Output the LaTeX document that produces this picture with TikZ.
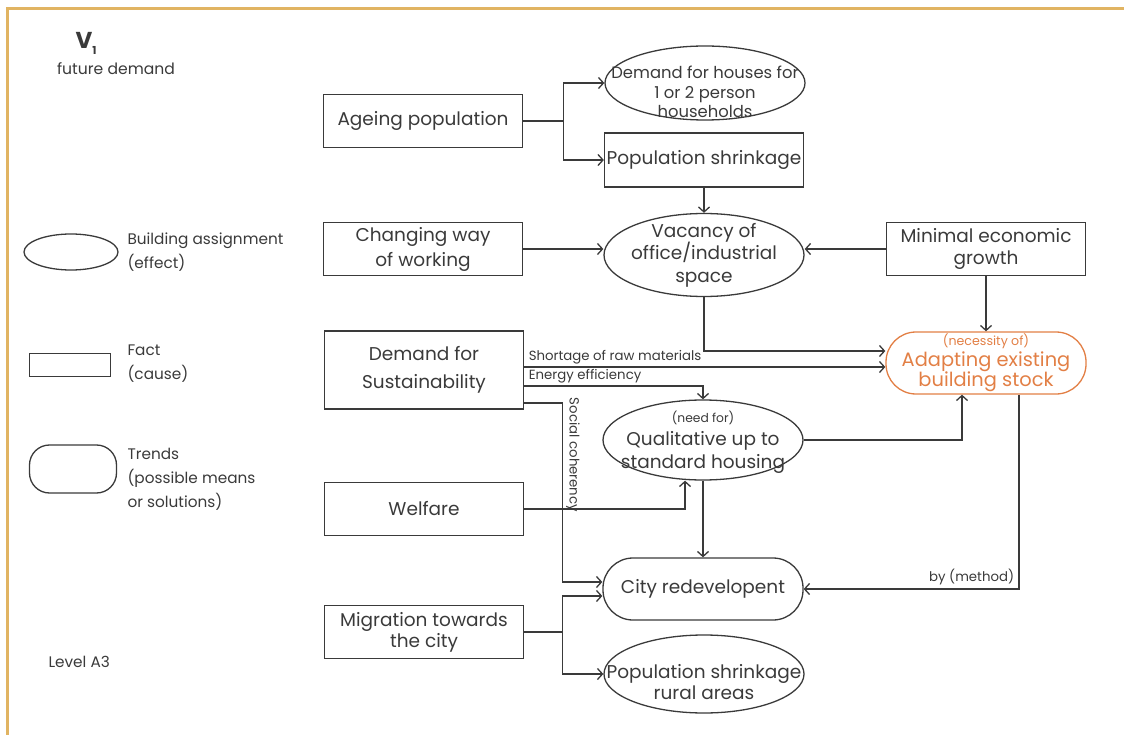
\documentclass[tikz,border=0pt]{standalone}
\usepackage{fontspec}
\setmainfont{Poppins}
\usetikzlibrary{shapes.geometric,arrows.meta}
\definecolor{ink}{HTML}{3A3A3A}
\definecolor{rim}{HTML}{E1B462}
\definecolor{rust}{HTML}{E27F45}

\begin{document}
\begin{tikzpicture}[x=1pt, y=-1pt, >={Straight Barb[length=5pt,width=11pt]},
    every node/.style={text=ink, font=\fontsize{18.5}{23}\selectfont},
    fact/.style={draw=ink, line width=1.3pt, rectangle, minimum width=199pt,
        minimum height=53pt, align=center, inner sep=1pt},
    effect/.style={draw=ink, line width=1.3pt, ellipse, minimum width=200pt,
        inner sep=0pt},
    trend/.style={draw=ink, line width=1.3pt, rectangle, rounded corners=30pt,
        minimum width=200pt, minimum height=62pt, align=center, inner sep=1pt},
    link/.style={draw=ink, line width=1.3pt, ->},
    note/.style={font=\fontsize{13.3}{15}\selectfont},
    legend/.style={font=\fontsize{15.3}{24}\selectfont, align=left, anchor=west}]

    % Vaste afmetingen van het beeld
    \useasboundingbox (0,0) rectangle (1124,735);
    \draw[rim, line width=2.5pt] (7.5,735) -- (7.5,8.5) -- (1124,8.5);

    % 1. Titel en legenda
    \node[font=\bfseries\fontsize{23}{23}\selectfont] (vee) at (86,43)
        {V\raisebox{-6pt}{\fontsize{11}{11}\selectfont 1}};
    \node[font=\fontsize{15.6}{17}\selectfont] (future) at (116,69) {future demand};

    \node[effect, minimum width=94pt, minimum height=36pt] (lgeffect) at (71,252) {};
    \node[legend] (lgeffecttxt) at (124,252) {Building assignment\\(effect)};
    \node[fact, minimum width=81pt, minimum height=23pt] (lgfact) at (70,365) {};
    \node[legend] (lgfacttxt) at (124,364) {Fact\\(cause)};
    \node[trend, minimum width=87pt, minimum height=48pt, rounded corners=20pt]
        (lgtrend) at (73,469) {};
    \node[legend] (lgtrendtxt) at (124,479) {Trends\\(possible means\\or solutions)};

    \node[legend] (level) at (45,662) {Level A3};

    % 2. Feiten (oorzaken)
    \node[fact] (age) at (423,121) {Ageing population};
    \node[fact, font=\fontsize{18.5}{25}\selectfont] (work) at (423,249) {Changing way\\of working};
    \node[fact, minimum height=78pt, font=\fontsize{18.5}{28}\selectfont] (sust) at (424,370)
        {Demand for\\Sustainability};
    \node[fact] (welfare) at (424,509) {Welfare};
    \node[fact, font=\fontsize{18.5}{21}\selectfont] (migr) at (424,632) {Migration towards\\the city};
    \node[fact, minimum height=54pt] (shrink) at (704,160) {Population shrinkage};
    \node[fact, font=\fontsize{18.5}{22}\selectfont] (growth) at (986,249) {Minimal economic\\growth};

    % 3. Bouwopgaven (gevolgen)
    \node[effect, minimum height=74pt, label={[align=center, yshift=-9pt,
        font=\fontsize{16.4}{19.5}\selectfont]center:Demand for houses for\\1 or 2 person\\households}]
        (houses) at (705,83) {};
    \node[effect, minimum height=83pt, label={[align=center,
        font=\fontsize{18.5}{22.5}\selectfont]center:Vacancy of\\office/industrial\\space}]
        (vac) at (704,255) {};
    \node[effect, minimum height=80pt, label={[align=center, yshift=-2pt,
        font=\fontsize{18.5}{23}\selectfont]center:{\fontsize{12.3}{12.3}\selectfont (need for)}\\Qualitative up to\\standard housing}]
        (qual) at (703,440) {};
    \node[effect, minimum height=78pt, label={[align=center, yshift=-8pt,
        font=\fontsize{18.5}{21}\selectfont]center:Population shrinkage\\rural areas}]
        (rural) at (704,674) {};

    % 4. Trends
    \node[trend] (city) at (703,589) {City redevelopent};
    \node[trend, draw=rust, text=rust, font=\fontsize{19.4}{20.5}\selectfont] (adapt) at (986,363)
        {{\fontsize{12.6}{12.6}\selectfont (necessity of)}\\Adapting existing\\building stock};

    % 5. Verbindingen
    \draw[link] (age.east) -- ++(40,0) coordinate (agesplit) |- (houses.west);
    \draw[link] (agesplit) |- (shrink.west);
    \draw[link] (shrink.south) -- (vac.north);
    \draw[link] (work.east) -- (work.east -| vac.west);
    \draw[link] (growth.west) -- (growth.west -| vac.east);
    \draw[link] (growth.south) -- (adapt.north);
    \draw[link] (vac.south) |- ([yshift=12pt]adapt.west);
    \draw[link] ([yshift=3pt]sust.east) -- ([yshift=-4pt]adapt.west)
        node[note, pos=0, anchor=south west, xshift=2pt, inner sep=2pt] {Shortage of raw materials};
    \draw[link] ([yshift=-16pt]sust.east) -| (qual.north)
        node[note, pos=0, anchor=south west, xshift=2pt, inner sep=2pt] {Energy efficiency};
    \draw[link] ([yshift=-33pt]sust.east) -- ++(38,0) |- ([yshift=7pt]city.west);
    \node[note, rotate=-90] (social) at (573,455) {Social coherency};
    \draw[link] (welfare.east) -| ([xshift=-18pt]qual.south);
    \draw[link] (qual.south) -- (city.north);
    \draw[link] (qual.east) -| ([xshift=-24pt]adapt.south);
    \draw[link] ([xshift=33pt]adapt.south) |- (city.east)
        node[note, pos=0.61, anchor=south] {by (method)};
    \draw[link] (migr.east) -- ++(38,0) coordinate (migrsplit) |- ([yshift=-7pt]city.west);
    \draw[link] (migrsplit) |- (rural.west);

\end{tikzpicture}
\end{document}
